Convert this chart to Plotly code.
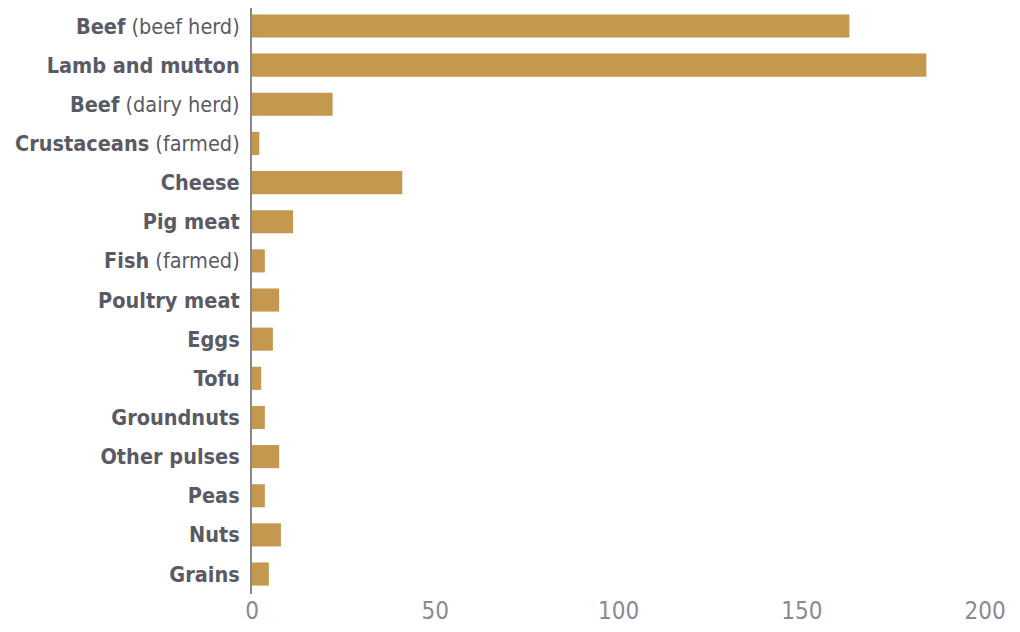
import plotly.graph_objects as go

categories = ["Beef (beef herd)", "Lamb and mutton", "Beef (dairy herd)", "Crustaceans (farmed)",
              "Cheese", "Pig meat", "Fish (farmed)", "Poultry meat", "Eggs", "Tofu",
              "Groundnuts", "Other pulses", "Peas", "Nuts", "Grains"]
label_main = ["Beef", "Lamb and mutton", "Beef", "Crustaceans", "Cheese", "Pig meat", "Fish",
              "Poultry meat", "Eggs", "Tofu", "Groundnuts", "Other pulses", "Peas", "Nuts", "Grains"]
label_note = ["(beef herd)", "", "(dairy herd)", "(farmed)", "", "", "(farmed)",
              "", "", "", "", "", "", "", ""]
values = [163, 184, 22, 2, 41, 11.2, 3.5, 7.4, 5.7, 2.5, 3.5, 7.4, 3.5, 7.9, 4.6]
x_ticks = [0, 50, 100, 150, 200]

ticktext = []
for m, n in zip(label_main, label_note):
    t = "<b>" + m + "</b>"
    if n:
        t += " " + n
    ticktext.append(t)

FONT = "DejaVu Sans Condensed, Liberation Sans Narrow, sans-serif"

fig = go.Figure(go.Bar(
    x=values, y=categories, orientation="h",
    marker=dict(color="#C4984F", line=dict(width=0)),
))

fig.update_layout(
    width=1004, height=616,
    paper_bgcolor="white", plot_bgcolor="white",
    margin=dict(l=244, r=27, t=0, b=30),
    bargap=0.41,
    showlegend=False,
    xaxis=dict(range=[0, 200], tickvals=x_ticks, showgrid=False, zeroline=False,
               showline=False, ticks="", automargin=False,
               tickfont=dict(family=FONT, size=24, color="#8a8a95")),
    yaxis=dict(tickvals=categories, ticktext=ticktext, range=[14.51, -0.46],
               showgrid=False, zeroline=False, showline=True, linecolor="#888888",
               linewidth=2, ticks="", ticklabelstandoff=6, automargin=False,
               tickfont=dict(family=FONT, size=21.5, color="#5a5a66")),
)

fig.write_html("out.html")
